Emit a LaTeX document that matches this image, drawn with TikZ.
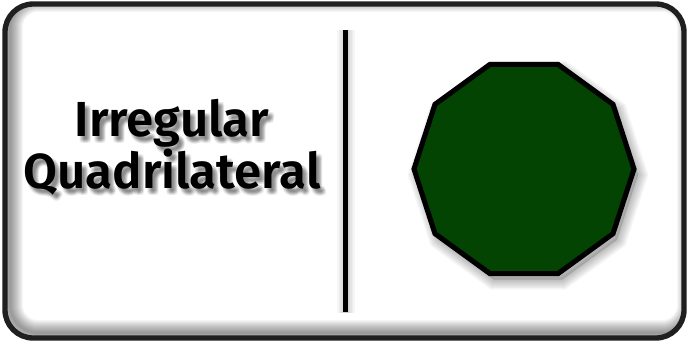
\documentclass[tikz,border=0pt]{standalone}
\usepackage{fontspec}
\setmainfont{Fira Sans}[BoldFont={Fira Sans SemiBold}]
\usetikzlibrary{shapes.geometric}
\definecolor{decagreen}{RGB}{3,68,3}

\tikzset{
  title/.style={font=\fontsize{35}{44}\selectfont\bfseries, anchor=base, inner sep=0pt},
  titleshade/.style={title, text=black, opacity=0.05},
  deca/.style={regular polygon, regular polygon sides=10, minimum size=5.5cm, inner sep=0pt},
}

\begin{document}
\begin{tikzpicture}[x=0.025cm,y=-0.025cm]
  \useasboundingbox (0,0) rectangle (689,344);

  %------------------
  % frame
  %------------------
  \begin{scope}
    \clip[rounded corners=20pt] (5,4) rectangle (684,338);
    \fill[white] (0,0) rectangle (689,344);
    \foreach \w in {2,4,...,26}
      \draw[black, opacity=0.035, line width=\w*0.7pt, rounded corners=20pt] (10,-1) rectangle (690,333);
  \end{scope}
  \draw[black!88, line width=3.8pt, rounded corners=20pt] (5,4) rectangle (684,338);

  %------------------
  % divider
  %------------------
  \foreach \w in {3,6,...,18}
    \draw[black, opacity=0.035, line width=\w*0.7pt] (346,30) -- (346,313);
  \fill[black] (343,30) rectangle (348,312);

  %------------------
  % title
  %------------------
  \foreach \dx/\dy in {4/5,2/4,6/6,3/7,5/3,4/3,2/6,6/4,5/7,3/5,5/5} {
    \node[titleshade] (sh1-\dx-\dy) at (172+\dx,136+\dy) {Irregular};
    \node[titleshade] (sh2-\dx-\dy) at (172+\dx,188+\dy) {Quadrilateral};
  }
  \node[title] (line1) at (172,136) {Irregular};
  \node[title] (line2) at (172,188) {Quadrilateral};

  %------------------
  % shape
  %------------------
  \foreach \w in {2,5,...,20}
    \node[deca, draw=black, fill=black, fill opacity=0.02, draw opacity=0.04, line width=\w*0.7pt]
      (shade\w) at (528,175) {};
  \node[deca, fill=decagreen, draw=black, line width=3.6pt] (decagon) at (524,169) {};
\end{tikzpicture}
\end{document}
